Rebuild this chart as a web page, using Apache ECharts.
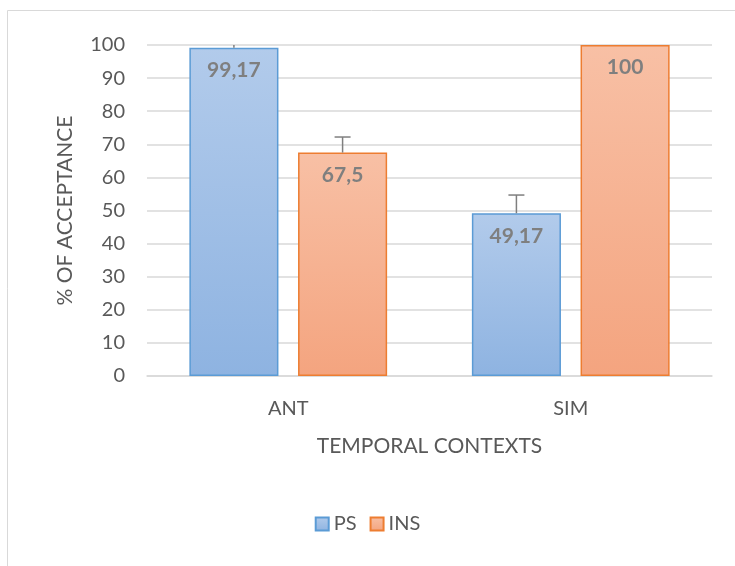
<!DOCTYPE html>
<html><head><meta charset="utf-8">
<script src="https://cdn.jsdelivr.net/npm/echarts@6/dist/echarts.min.js"></script>
<style>html,body{margin:0;padding:0;background:#fff}#c{width:735px;height:566px}</style>
</head><body><div id="c"></div>
<script>
const categories = ['ANT', 'SIM'];
const psValues = [99.17, 49.17];
const insValues = [67.5, 100];
const psErrors = [1.5, 5.5];
const insErrors = [4.7, 0];
const yTicks = [0, 10, 20, 30, 40, 50, 60, 70, 80, 90, 100];

const chart = echarts.init(document.getElementById('c'));
const font = 'Lato, "Open Sans", sans-serif';
function grad(top, bottom) {
  return new echarts.graphic.LinearGradient(0, 0, 0, 1, [{offset: 0, color: top}, {offset: 1, color: bottom}]);
}
function errSeries(values, errors, idx) {
  return {
    type: 'custom', clip: true, z: 5,
    data: values.map((v, i) => [i, v, errors[i]]),
    renderItem: function (params, api) {
      const i = api.value(0), v = api.value(1), e = api.value(2);
      if (!e) return null;
      const size = api.size([1, 0]);
      const catW = size[0];
      const barW = catW * 0.7 / 2.22;
      const gap = barW * 0.22;
      const center = api.coord([i, 0])[0];
      const x = idx === 0 ? center - gap / 2 - barW / 2 : center + gap / 2 + barW / 2;
      const y0 = api.coord([i, v])[1];
      const y1 = api.coord([i, v + e])[1];
      return {
        type: 'group', children: [
          {type: 'line', shape: {x1: x, y1: y0, x2: x, y2: y1}, style: {stroke: '#7f7f7f', lineWidth: 1.5}},
          {type: 'line', shape: {x1: x - 8, y1: y1, x2: x + 8, y2: y1}, style: {stroke: '#7f7f7f', lineWidth: 1.5}}
        ]
      };
    }
  };
}
const labelCfg = {show: true, position: 'insideTop', distance: 12, color: '#7f7f7f', fontWeight: 'bold', fontSize: 21, fontFamily: font,
  formatter: p => String(p.value).replace('.', ',')};
chart.setOption({
  animation: false,
  graphic: [{type: 'rect', shape: {x: 7.5, y: 10.5, width: 740, height: 570}, style: {fill: 'none', stroke: '#d9d9d9', lineWidth: 1}, silent: true}],
  grid: {left: 147, right: 23, top: 45, bottom: 190},
  legend: {
    bottom: 27, left: 'center', itemWidth: 13, itemHeight: 13, itemGap: 13,
    textStyle: {color: '#595959', fontSize: 20, fontFamily: font},
    data: [{name: 'PS', icon: 'rect'}, {name: 'INS', icon: 'rect'}]
  },
  xAxis: {
    type: 'category', data: categories,
    name: 'TEMPORAL CONTEXTS', nameLocation: 'middle', nameGap: 60,
    nameTextStyle: {color: '#595959', fontSize: 21, fontFamily: font},
    axisLine: {lineStyle: {color: '#d9d9d9', width: 1.5}}, axisTick: {show: false},
    axisLabel: {color: '#595959', fontSize: 20, fontFamily: font, margin: 23}
  },
  yAxis: {
    type: 'value', min: 0, max: 100, interval: 10,
    name: '% OF ACCEPTANCE', nameLocation: 'middle', nameGap: 71, nameRotate: 90,
    nameTextStyle: {color: '#595959', fontSize: 21, fontFamily: font},
    axisLabel: {color: '#595959', fontSize: 20, fontFamily: font, margin: 22, formatter: v => yTicks.includes(v) ? String(v) : ''},
    splitLine: {lineStyle: {color: '#d9d9d9', width: 1.5}}, axisLine: {show: false}, axisTick: {show: false}
  },
  series: [
    {name: 'PS', type: 'bar', data: psValues, barGap: '22%', barCategoryGap: '30%',
     itemStyle: {color: grad('#b2cbeb', '#8eb3e1'), borderColor: '#5b9bd5', borderWidth: 1.5}, label: labelCfg},
    {name: 'INS', type: 'bar', data: insValues,
     itemStyle: {color: grad('#f8c0a5', '#f4a47f'), borderColor: '#ed7d31', borderWidth: 1.5}, label: labelCfg},
    errSeries(psValues, psErrors, 0),
    errSeries(insValues, insErrors, 1)
  ]
});
</script></body></html>
